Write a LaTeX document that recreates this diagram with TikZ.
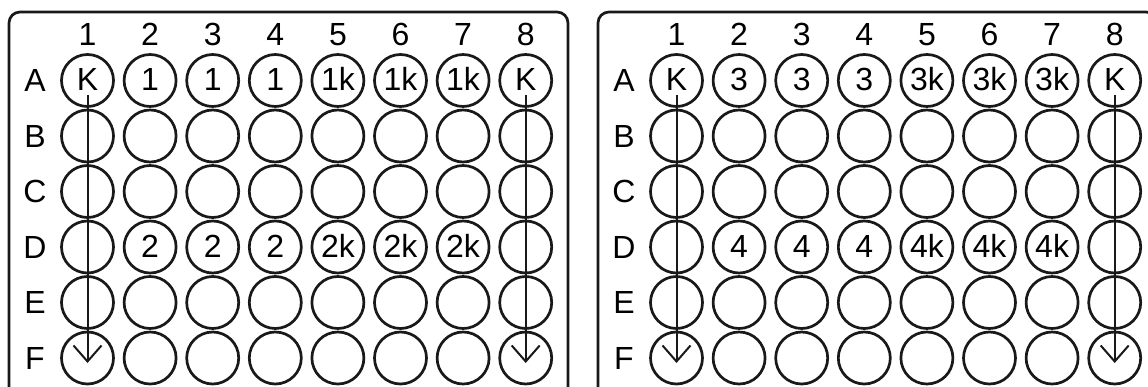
\documentclass[tikz,border=0pt]{standalone}
\usepackage{fontspec}
\setmainfont{Liberation Sans}
\usetikzlibrary{arrows.meta}
\begin{document}
\begin{tikzpicture}[x=1pt,y=-1pt,
  well/.style={circle,draw=black!90,line width=2.7pt,minimum size=52pt,inner sep=0pt},
  plate/.style={draw=black!90,line width=2.7pt,rounded corners=11pt},
  lbl/.style={inner sep=0pt,font=\fontsize{32}{32}\selectfont},
  wlbl/.style={inner sep=0pt,font=\fontsize{32}{32}\selectfont},
  flow/.style={draw=black!90,line width=2pt,-{Straight Barb[length=16pt,width=28pt,line width=2pt]}}]
\useasboundingbox (0,0) rectangle (1148,387);
\clip (0,0) rectangle (1148,387);
\foreach \p/\ox/\ta/\td in {L/0/1/2, R/589/3/4}{
  \draw[plate] (9+\ox,12) rectangle (568+\ox,402);
  \foreach \c in {1,...,8}{
    \node[lbl] (\p-col-\c) at (87.5+\ox+62.6*\c-62.6,34.5) {\c};
  }
  \foreach \r [count=\i] in {A,B,C,D,E,F}{
    \node[lbl] (\p-row-\r) at (35+\ox,80.5+55.5*\i-55.5) {\r};
    \foreach \c in {1,...,8}{
      \node[well] (\p-\r-\c) at (87.5+\ox+62.6*\c-62.6,80.5+55.5*\i-55.5) {};
    }
  }
  \foreach \c in {1,...,8}{
    \node[wlbl] (\p-A-\c-t) at ([yshift=1.5pt]\p-A-\c.center) {\ifnum\c=1 K\else\ifnum\c=8 K\else\ifnum\c<5 \ta\else\ta k\fi\fi\fi};
  }
  \foreach \c in {2,...,7}{
    \node[wlbl] (\p-D-\c-t) at ([yshift=1pt]\p-D-\c.center) {\ifnum\c<5 \td\else\td k\fi};
  }
  \draw[flow] ([yshift=-14.5pt]\p-A-1.center) -- ([yshift=-5pt]\p-F-1.center);
  \draw[flow] ([yshift=-14.5pt]\p-A-8.center) -- ([yshift=-5pt]\p-F-8.center);
}
\end{tikzpicture}
\end{document}
